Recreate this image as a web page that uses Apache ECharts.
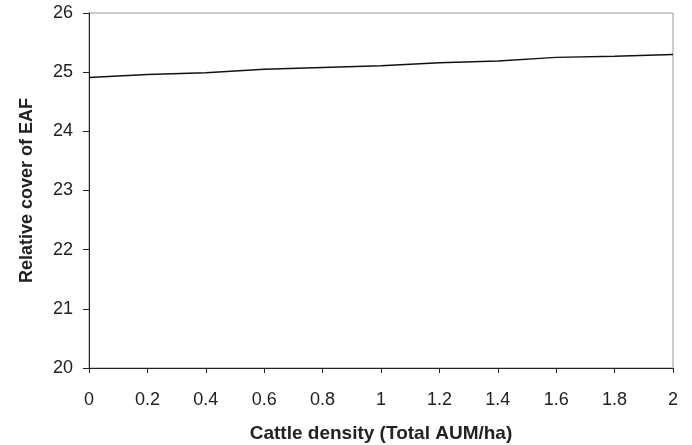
<!DOCTYPE html>
<html>
<head>
<meta charset="utf-8">
<script src="https://cdn.jsdelivr.net/npm/echarts@6/dist/echarts.min.js"></script>
<style>
  html, body { margin: 0; padding: 0; background: #fff; }
  #chart { width: 692px; height: 445px; }
</style>
</head>
<body>
<div id="chart"></div>
<script>
// cattle density (x) and relative cover of EAF (y)
var densities = [0, 0.2, 0.4, 0.6, 0.8, 1.0, 1.2, 1.4, 1.6, 1.8, 2.0];
var cover = [24.91, 24.96, 24.99, 25.05, 25.08, 25.11, 25.16, 25.19, 25.25, 25.27, 25.30];

var points = [];
for (var i = 0; i < densities.length; i++) {
  points.push([densities[i], cover[i]]);
}

var myChart = echarts.init(document.getElementById('chart'));
var fontFam = '"Liberation Sans", Arial, sans-serif';

var option = {
  animation: false,
  grid: {
    left: 89, right: 19, top: 13, bottom: 77,
    outerBoundsMode: 'none',
    show: true,
    borderColor: '#999',
    borderWidth: 1,
    backgroundColor: 'transparent'
  },
  xAxis: {
    type: 'value',
    min: 0, max: 2, interval: 0.2,
    name: 'Cattle density (Total AUM/ha)',
    nameLocation: 'middle',
    nameGap: 56,
    nameTextStyle: { fontFamily: fontFam, fontSize: 19, fontWeight: 'bold', color: '#222' },
    axisLine: { show: true, lineStyle: { color: '#222', width: 1 } },
    axisTick: { show: true, inside: false, length: 5, lineStyle: { color: '#222' } },
    axisLabel: {
      fontFamily: fontFam, fontSize: 18, color: '#222', margin: 23,
      formatter: function (v) { return String(Math.round(v * 10) / 10); }
    },
    splitLine: { show: false }
  },
  yAxis: {
    type: 'value',
    min: 20, max: 26, interval: 1,
    name: 'Relative cover of EAF',
    nameLocation: 'middle',
    nameGap: 53,
    nameRotate: 90,
    nameTextStyle: { fontFamily: fontFam, fontSize: 18, fontWeight: 'bold', color: '#222' },
    axisLine: { show: true, lineStyle: { color: '#222', width: 1 } },
    axisTick: { show: true, inside: false, length: 6, lineStyle: { color: '#222' } },
    axisLabel: { fontFamily: fontFam, fontSize: 18, color: '#222', margin: 16 },
    splitLine: { show: false }
  },
  series: [
    {
      type: 'line',
      data: points,
      symbol: 'none',
      lineStyle: { color: '#111', width: 1.5 }
    }
  ]
};

myChart.setOption(option);
</script>
</body>
</html>
